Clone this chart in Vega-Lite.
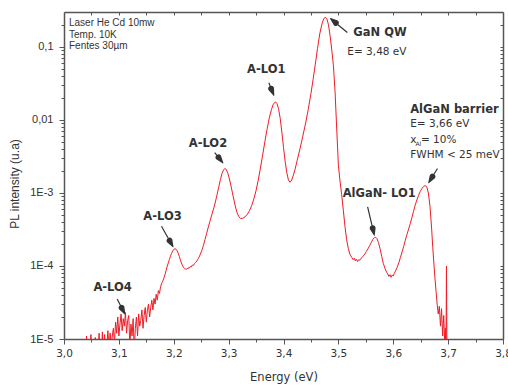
{
  "$schema": "https://vega.github.io/schema/vega-lite/v6.json",
  "width": 439,
  "height": 327,
  "autosize": {"type": "none"},
  "padding": {"left": 64, "top": 12, "right": 5, "bottom": 46},
  "background": "white",
  "config": {
    "view": {"stroke": null},
    "axis": {
      "grid": false,
      "domainColor": "#555555",
      "domainWidth": 1.5,
      "tickColor": "#555555",
      "tickWidth": 1,
      "labelColor": "#333333",
      "titleColor": "#333333",
      "labelFlush": false,
      "labelOverlap": false,
      "titleFontWeight": "normal"
    }
  },
  "datasets": {
    "spectrum": [
      {"E":3.040,"I":5e-6},{"E":3.041,"I":1.1e-5},{"E":3.043,"I":5e-6},{"E":3.046,"I":6e-6},{"E":3.048,"I":5e-6},{"E":3.049,"I":1.15e-5},{"E":3.051,"I":5e-6},{"E":3.054,"I":6e-6},{"E":3.056,"I":5e-6},{"E":3.057,"I":1.05e-5},{"E":3.059,"I":5e-6},{"E":3.062,"I":7e-6},{"E":3.064,"I":1.2e-5},{"E":3.066,"I":5e-6},{"E":3.068,"I":6e-6},{"E":3.070,"I":1.25e-5},{"E":3.071,"I":6e-6},{"E":3.074,"I":1.15e-5},{"E":3.075,"I":6e-6},{"E":3.078,"I":8e-6},{"E":3.080,"I":1.3e-5},{"E":3.082,"I":7e-6},{"E":3.084,"I":1.2e-5},{"E":3.086,"I":8e-6},{"E":3.088,"I":1.1e-5},
      {"E":3.090,"I":1.4e-5},{"E":3.092,"I":9e-6},{"E":3.094,"I":1.7e-5},{"E":3.096,"I":1.2e-5},{"E":3.098,"I":2.0e-5},{"E":3.100,"I":1.1e-5},{"E":3.102,"I":1.6e-5},{"E":3.104,"I":2.2e-5},{"E":3.106,"I":1.3e-5},{"E":3.108,"I":1.9e-5},{"E":3.110,"I":1.5e-5},{"E":3.112,"I":2.3e-5},{"E":3.114,"I":1.2e-5},{"E":3.116,"I":1.8e-5},{"E":3.118,"I":2.1e-5},{"E":3.120,"I":8e-6},{"E":3.122,"I":1.6e-5},{"E":3.124,"I":1.1e-5},{"E":3.126,"I":1.9e-5},{"E":3.128,"I":7e-6},{"E":3.130,"I":1.4e-5},{"E":3.132,"I":2.0e-5},{"E":3.134,"I":1.1e-5},{"E":3.136,"I":2.2e-5},{"E":3.138,"I":1.5e-5},{"E":3.140,"I":1.8e-5},{"E":3.142,"I":2.5e-5},{"E":3.144,"I":1.4e-5},{"E":3.146,"I":2.1e-5},{"E":3.148,"I":2.7e-5},{"E":3.150,"I":1.7e-5},{"E":3.152,"I":2.5e-5},{"E":3.154,"I":3.0e-5},{"E":3.156,"I":2.0e-5},{"E":3.158,"I":2.7e-5},{"E":3.160,"I":3.4e-5},{"E":3.162,"I":2.5e-5},{"E":3.164,"I":3.6e-5},{"E":3.166,"I":3.0e-5},{"E":3.168,"I":4.1e-5},{"E":3.170,"I":3.4e-5},{"E":3.172,"I":4.6e-5},{"E":3.174,"I":4.2e-5},{"E":3.176,"I":5.2e-5},
      {"E":3.178,"I":5.8e-5},{"E":3.180,"I":6.2e-5},{"E":3.182,"I":6.8e-5},{"E":3.184,"I":7.6e-5},{"E":3.186,"I":8.6e-5},{"E":3.188,"I":9.8e-5},{"E":3.190,"I":1.1e-4},{"E":3.192,"I":1.22e-4},{"E":3.194,"I":1.36e-4},{"E":3.196,"I":1.48e-4},{"E":3.198,"I":1.6e-4},{"E":3.200,"I":1.68e-4},{"E":3.202,"I":1.72e-4},{"E":3.204,"I":1.70e-4},{"E":3.206,"I":1.62e-4},{"E":3.208,"I":1.5e-4},{"E":3.210,"I":1.36e-4},{"E":3.212,"I":1.22e-4},{"E":3.214,"I":1.1e-4},{"E":3.216,"I":1.01e-4},{"E":3.218,"I":9.5e-5},{"E":3.220,"I":9.2e-5},{"E":3.222,"I":9.0e-5},{"E":3.224,"I":9.1e-5},{"E":3.226,"I":9.4e-5},{"E":3.228,"I":9.3e-5},{"E":3.230,"I":9.8e-5},{"E":3.232,"I":9.7e-5},{"E":3.234,"I":1.03e-4},{"E":3.236,"I":1.02e-4},{"E":3.238,"I":1.08e-4},{"E":3.240,"I":1.12e-4},{"E":3.242,"I":1.17e-4},{"E":3.245,"I":1.27e-4},{"E":3.248,"I":1.42e-4},{"E":3.251,"I":1.62e-4},{"E":3.254,"I":1.9e-4},{"E":3.257,"I":2.3e-4},{"E":3.260,"I":2.8e-4},{"E":3.263,"I":3.4e-4},{"E":3.266,"I":4.1e-4},{"E":3.270,"I":5.2e-4},{"E":3.274,"I":6.6e-4},{"E":3.278,"I":8.8e-4},{"E":3.282,"I":1.2e-3},{"E":3.285,"I":1.52e-3},{"E":3.288,"I":1.85e-3},{"E":3.291,"I":2.08e-3},{"E":3.293,"I":2.15e-3},{"E":3.295,"I":2.12e-3},{"E":3.298,"I":1.92e-3},{"E":3.301,"I":1.6e-3},{"E":3.304,"I":1.28e-3},{"E":3.307,"I":1.0e-3},{"E":3.310,"I":7.8e-4},{"E":3.313,"I":6.2e-4},{"E":3.316,"I":5.2e-4},{"E":3.319,"I":4.7e-4},{"E":3.322,"I":4.45e-4},{"E":3.326,"I":4.5e-4},{"E":3.330,"I":4.7e-4},{"E":3.334,"I":5.1e-4},{"E":3.338,"I":5.7e-4},{"E":3.342,"I":6.7e-4},{"E":3.346,"I":8.3e-4},{"E":3.350,"I":1.08e-3},{"E":3.354,"I":1.5e-3},{"E":3.358,"I":2.2e-3},{"E":3.362,"I":3.3e-3},{"E":3.366,"I":5.0e-3},{"E":3.370,"I":7.4e-3},{"E":3.374,"I":0.0105},{"E":3.378,"I":0.0138},{"E":3.381,"I":0.0161},{"E":3.384,"I":0.0174},{"E":3.386,"I":0.0175},{"E":3.388,"I":0.0168},{"E":3.391,"I":0.0142},{"E":3.394,"I":0.0105},{"E":3.397,"I":0.0068},{"E":3.400,"I":4.2e-3},{"E":3.403,"I":2.7e-3},{"E":3.406,"I":1.9e-3},{"E":3.409,"I":1.5e-3},{"E":3.412,"I":1.4e-3},{"E":3.415,"I":1.5e-3},{"E":3.418,"I":1.75e-3},{"E":3.421,"I":2.1e-3},{"E":3.425,"I":2.8e-3},{"E":3.430,"I":4.0e-3},{"E":3.435,"I":5.9e-3},{"E":3.440,"I":8.8e-3},{"E":3.445,"I":0.0138},{"E":3.450,"I":0.023},{"E":3.454,"I":0.036},{"E":3.458,"I":0.058},{"E":3.462,"I":0.095},{"E":3.466,"I":0.15},{"E":3.470,"I":0.205},{"E":3.473,"I":0.24},{"E":3.476,"I":0.255},{"E":3.479,"I":0.243},{"E":3.482,"I":0.2},{"E":3.485,"I":0.14},{"E":3.488,"I":0.09},{"E":3.491,"I":0.055},{"E":3.494,"I":0.024},{"E":3.497,"I":0.0075},{"E":3.500,"I":2.4e-3},{"E":3.503,"I":1.45e-3},{"E":3.506,"I":9.5e-4},{"E":3.509,"I":5.8e-4},{"E":3.512,"I":3.5e-4},{"E":3.515,"I":2.3e-4},{"E":3.518,"I":1.75e-4},{"E":3.521,"I":1.45e-4},{"E":3.524,"I":1.32e-4},{"E":3.527,"I":1.22e-4},{"E":3.529,"I":1.28e-4},{"E":3.531,"I":1.17e-4},{"E":3.533,"I":1.24e-4},{"E":3.535,"I":1.15e-4},{"E":3.537,"I":1.22e-4},{"E":3.539,"I":1.2e-4},{"E":3.542,"I":1.28e-4},{"E":3.545,"I":1.36e-4},{"E":3.548,"I":1.45e-4},{"E":3.551,"I":1.58e-4},{"E":3.554,"I":1.72e-4},{"E":3.557,"I":1.9e-4},{"E":3.560,"I":2.1e-4},{"E":3.563,"I":2.32e-4},{"E":3.566,"I":2.46e-4},{"E":3.568,"I":2.47e-4},{"E":3.570,"I":2.38e-4},{"E":3.573,"I":2.1e-4},{"E":3.576,"I":1.72e-4},{"E":3.579,"I":1.35e-4},{"E":3.582,"I":1.08e-4},{"E":3.585,"I":9.2e-5},{"E":3.588,"I":8.2e-5},{"E":3.590,"I":7.8e-5},{"E":3.592,"I":7.2e-5},{"E":3.594,"I":7.6e-5},{"E":3.596,"I":7.0e-5},{"E":3.598,"I":7.5e-5},{"E":3.600,"I":7.3e-5},{"E":3.602,"I":7.9e-5},{"E":3.604,"I":8.5e-5},{"E":3.607,"I":9.5e-5},{"E":3.610,"I":1.1e-4},{"E":3.613,"I":1.3e-4},{"E":3.616,"I":1.55e-4},{"E":3.619,"I":1.85e-4},{"E":3.622,"I":2.25e-4},{"E":3.625,"I":2.7e-4},{"E":3.628,"I":3.2e-4},{"E":3.631,"I":3.8e-4},{"E":3.634,"I":4.6e-4},{"E":3.637,"I":5.6e-4},{"E":3.640,"I":6.8e-4},{"E":3.643,"I":8.0e-4},{"E":3.646,"I":9.2e-4},{"E":3.649,"I":1.04e-3},{"E":3.652,"I":1.14e-3},{"E":3.655,"I":1.22e-3},{"E":3.658,"I":1.26e-3},{"E":3.661,"I":1.22e-3},{"E":3.664,"I":1.0e-3},{"E":3.667,"I":6.5e-4},{"E":3.670,"I":3.2e-4},{"E":3.672,"I":1.8e-4},{"E":3.674,"I":1.1e-4},{"E":3.676,"I":6.8e-5},{"E":3.678,"I":4.5e-5},{"E":3.680,"I":3.0e-5},{"E":3.682,"I":2.2e-5},{"E":3.684,"I":2.8e-5},{"E":3.686,"I":1.5e-5},{"E":3.688,"I":2.6e-5},{"E":3.690,"I":1.1e-5},{"E":3.692,"I":2.1e-5},{"E":3.694,"I":8e-6},{"E":3.695,"I":1.4e-5},{"E":3.696,"I":5e-6},{"E":3.697,"I":1.0e-4},{"E":3.698,"I":4e-6}
    ],
    "boldCenter": [
      {"E":3.36855,"I":0.04756,"label":"A-LO1"},
      {"E":3.26236,"I":0.004634,"label":"A-LO2"},
      {"E":3.17945,"I":4.696e-4,"label":"A-LO3"},
      {"E":3.08855,"I":4.93e-5,"label":"A-LO4"}
    ],
    "boldLeft": [
      {"E":3.52727,"I":0.1525,"label":"GaN QW"},
      {"E":3.63091,"I":0.01351,"label":"AlGaN barrier"},
      {"E":3.50782,"I":9.81e-4,"label":"AlGaN- LO1"}
    ],
    "regular": [
      {"E":3.51636,"I":0.0838,"label":"E= 3,48 eV"},
      {"E":3.63091,"I":0.008696,"label":"E= 3,66 eV"},
      {"E":3.63091,"I":0.005337,"label":"x"},
      {"E":3.65036,"I":0.005337,"label":"= 10%"},
      {"E":3.63091,"I":0.003277,"label":"FWHM < 25 meV"}
    ],
    "subscript": [
      {"E":3.64055,"I":0.004707,"label":"Al"}
    ],
    "info": [
      {"E":3.00909,"I":0.2089,"label":"Laser He Cd 10mw"},
      {"E":3.00909,"I":0.1432,"label":"Temp. 10K"},
      {"E":3.00909,"I":0.1013,"label":"Fentes 30µm"}
    ],
    "shafts": [
      {"E":3.51636,"I":0.1574,"E2":3.49527,"I2":0.2126},
      {"E":3.37327,"I":0.03229,"E2":3.37764,"I2":0.02658},
      {"E":3.27455,"I":0.003567,"E2":3.28164,"I2":0.003057},
      {"E":3.17764,"I":3.505e-4,"E2":3.19255,"I2":2.214e-4},
      {"E":3.09691,"I":3.522e-5,"E2":3.10509,"I2":2.670e-5},
      {"E":3.55327,"I":6.434e-4,"E2":3.56255,"I2":3.271e-4},
      {"E":3.68055,"I":2.156e-3,"E2":3.67127,"I2":1.665e-3}
    ],
    "heads": [
      {"arrow":"GaN QW","part":"base","E":3.49527,"I":0.2126},
      {"arrow":"GaN QW","part":"tip","E":3.48545,"I":0.2445},
      {"arrow":"A-LO1","part":"base","E":3.37764,"I":0.02658},
      {"arrow":"A-LO1","part":"tip","E":3.38236,"I":0.02166},
      {"arrow":"A-LO2","part":"base","E":3.28164,"I":0.003057},
      {"arrow":"A-LO2","part":"tip","E":3.28964,"I":0.002571},
      {"arrow":"A-LO3","part":"base","E":3.19255,"I":2.214e-4},
      {"arrow":"A-LO3","part":"tip","E":3.19873,"I":1.827e-4},
      {"arrow":"A-LO4","part":"base","E":3.10509,"I":2.670e-5},
      {"arrow":"A-LO4","part":"tip","E":3.11091,"I":2.197e-5},
      {"arrow":"AlGaN-LO1","part":"base","E":3.56255,"I":3.271e-4},
      {"arrow":"AlGaN-LO1","part":"tip","E":3.56545,"I":2.641e-4},
      {"arrow":"AlGaN barrier","part":"base","E":3.67127,"I":1.665e-3},
      {"arrow":"AlGaN barrier","part":"tip","E":3.66455,"I":1.379e-3}
    ]
  },
  "layer": [
    {
      "data": {"name": "spectrum"},
      "mark": {"type": "line", "color": "#ee1c25", "strokeWidth": 1, "clip": true},
      "encoding": {
        "x": {"field": "E", "type": "quantitative",
          "scale": {"type": "linear", "domain": [3.0, 3.8], "nice": false, "zero": false},
          "axis": {"orient": "bottom", "values": [3.0, 3.1, 3.2, 3.3, 3.4, 3.5, 3.6, 3.7, 3.8],
            "labelExpr": "replace(format(datum.value, '.1f'), '.', ',')",
            "title": "Energy (eV)", "tickSize": 5, "labelPadding": 4,
            "labelFont": "DejaVu Sans", "labelFontSize": 10.5,
            "titleFont": "DejaVu Sans", "titleFontSize": 11.5,
            "titleY": 38, "titleBaseline": "middle"}},
        "y": {"field": "I", "type": "quantitative",
          "scale": {"type": "log", "domain": [1e-5, 0.3], "nice": false},
          "axis": {"orient": "left", "values": [1e-5, 1e-4, 1e-3, 0.01, 0.1],
            "labelExpr": "datum.value > 0.05 ? '0,1' : datum.value > 0.005 ? '0,01' : datum.value > 0.0005 ? '1E-3' : datum.value > 0.00005 ? '1E-4' : '1E-5'",
            "title": "PL intensity (u.a)", "tickSize": 5, "labelPadding": 6,
            "labelFont": "Liberation Sans", "labelFontSize": 11,
            "titleFont": "Liberation Sans", "titleFontSize": 12,
            "titleX": -50, "titleY": 171.5, "titleAngle": -90,
            "titleAlign": "center", "titleBaseline": "middle"}}
      }
    },
    {
      "data": {"name": "boldCenter"},
      "mark": {"type": "text", "align": "center", "baseline": "middle", "font": "DejaVu Sans", "fontWeight": "bold", "fontSize": 11.5, "color": "#333333"},
      "encoding": {
        "x": {"field": "E", "type": "quantitative",
          "scale": {"type": "linear", "domain": [3.0, 3.8], "nice": false, "zero": false},
          "axis": {"orient": "bottom", "values": [3.05, 3.15, 3.25, 3.35, 3.45, 3.55, 3.65, 3.75],
            "labels": false, "title": null, "tickSize": 3, "domain": false}},
        "y": {"field": "I", "type": "quantitative",
          "scale": {"type": "log", "domain": [1e-5, 0.3], "nice": false},
          "axis": {"orient": "left",
            "values": [2e-5, 3e-5, 4e-5, 5e-5, 6e-5, 7e-5, 8e-5, 9e-5, 2e-4, 3e-4, 4e-4, 5e-4, 6e-4, 7e-4, 8e-4, 9e-4, 0.002, 0.003, 0.004, 0.005, 0.006, 0.007, 0.008, 0.009, 0.02, 0.03, 0.04, 0.05, 0.06, 0.07, 0.08, 0.09, 0.2],
            "labels": false, "title": null, "tickSize": 3, "domain": false}},
        "text": {"field": "label"}
      }
    },
    {
      "data": {"name": "boldLeft"},
      "mark": {"type": "text", "align": "left", "baseline": "middle", "font": "DejaVu Sans", "fontWeight": "bold", "fontSize": 11.5, "color": "#333333"},
      "encoding": {
        "x": {"field": "E", "type": "quantitative", "scale": {"type": "linear", "domain": [3.0, 3.8], "nice": false, "zero": false}, "axis": null},
        "y": {"field": "I", "type": "quantitative", "scale": {"type": "log", "domain": [1e-5, 0.3], "nice": false}, "axis": null},
        "text": {"field": "label"}
      }
    },
    {
      "data": {"name": "regular"},
      "mark": {"type": "text", "align": "left", "baseline": "middle", "font": "DejaVu Sans", "fontSize": 10.5, "color": "#333333"},
      "encoding": {
        "x": {"field": "E", "type": "quantitative", "scale": {"type": "linear", "domain": [3.0, 3.8], "nice": false, "zero": false}, "axis": null},
        "y": {"field": "I", "type": "quantitative", "scale": {"type": "log", "domain": [1e-5, 0.3], "nice": false}, "axis": null},
        "text": {"field": "label"}
      }
    },
    {
      "data": {"name": "subscript"},
      "mark": {"type": "text", "align": "left", "baseline": "middle", "font": "DejaVu Sans", "fontSize": 6, "color": "#333333"},
      "encoding": {
        "x": {"field": "E", "type": "quantitative", "scale": {"type": "linear", "domain": [3.0, 3.8], "nice": false, "zero": false}, "axis": null},
        "y": {"field": "I", "type": "quantitative", "scale": {"type": "log", "domain": [1e-5, 0.3], "nice": false}, "axis": null},
        "text": {"field": "label"}
      }
    },
    {
      "data": {"name": "info"},
      "mark": {"type": "text", "align": "left", "baseline": "middle", "font": "Liberation Sans", "fontSize": 10, "color": "#333333"},
      "encoding": {
        "x": {"field": "E", "type": "quantitative", "scale": {"type": "linear", "domain": [3.0, 3.8], "nice": false, "zero": false}, "axis": null},
        "y": {"field": "I", "type": "quantitative", "scale": {"type": "log", "domain": [1e-5, 0.3], "nice": false}, "axis": null},
        "text": {"field": "label"}
      }
    },
    {
      "data": {"name": "shafts"},
      "mark": {"type": "rule", "color": "#333333", "strokeWidth": 1.2},
      "encoding": {
        "x": {"field": "E", "type": "quantitative",
          "scale": {"type": "linear", "domain": [3.0, 3.8], "nice": false, "zero": false},
          "axis": {"orient": "top", "values": [3.0, 3.05, 3.1, 3.15, 3.2, 3.25, 3.3, 3.35, 3.4, 3.45, 3.5, 3.55, 3.6, 3.65, 3.7, 3.75, 3.8],
            "labels": false, "title": null, "tickSize": -3}},
        "y": {"field": "I", "type": "quantitative",
          "scale": {"type": "log", "domain": [1e-5, 0.3], "nice": false},
          "axis": {"orient": "right",
            "values": [1e-5, 2e-5, 3e-5, 4e-5, 5e-5, 6e-5, 7e-5, 8e-5, 9e-5, 1e-4, 2e-4, 3e-4, 4e-4, 5e-4, 6e-4, 7e-4, 8e-4, 9e-4, 0.001, 0.002, 0.003, 0.004, 0.005, 0.006, 0.007, 0.008, 0.009, 0.01, 0.02, 0.03, 0.04, 0.05, 0.06, 0.07, 0.08, 0.09, 0.1, 0.2],
            "labels": false, "title": null, "tickSize": -3}},
        "x2": {"field": "E2"},
        "y2": {"field": "I2"}
      }
    },
    {
      "data": {"name": "heads"},
      "mark": {"type": "trail", "color": "#333333"},
      "encoding": {
        "x": {"field": "E", "type": "quantitative", "scale": {"type": "linear", "domain": [3.0, 3.8], "nice": false, "zero": false}, "axis": null},
        "y": {"field": "I", "type": "quantitative", "scale": {"type": "log", "domain": [1e-5, 0.3], "nice": false}, "axis": null},
        "detail": {"field": "arrow", "type": "nominal"},
        "size": {"field": "part", "type": "nominal", "scale": {"type": "ordinal", "domain": ["base", "tip"], "range": [6, 0]}, "legend": null}
      }
    }
  ],
  "resolve": {"axis": {"x": "independent", "y": "independent"}}
}
